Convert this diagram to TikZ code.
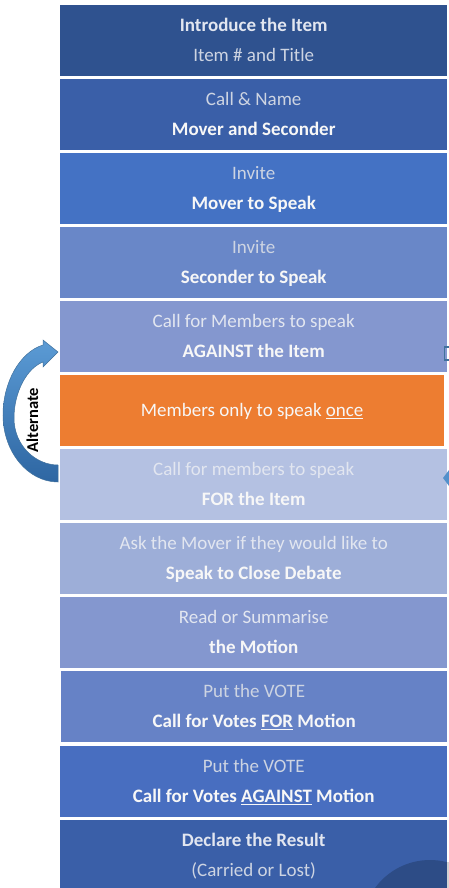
\documentclass[tikz,border=0pt]{standalone}
\usepackage{fontspec}
\setmainfont{Carlito}
\definecolor{ra}{RGB}{47,82,143}
\definecolor{rb}{RGB}{58,95,168}
\definecolor{rc}{RGB}{68,114,196}
\definecolor{rd}{RGB}{105,135,200}
\definecolor{re}{RGB}{132,151,207}
\definecolor{orng}{RGB}{237,125,49}
\definecolor{rg}{RGB}{180,193,226}
\definecolor{rh}{RGB}{157,174,216}
\definecolor{ri}{RGB}{132,151,207}
\definecolor{rj}{RGB}{102,130,198}
\definecolor{rk}{RGB}{72,110,192}
\definecolor{rl}{RGB}{58,95,168}
\definecolor{darkc}{RGB}{45,76,134}
\definecolor{lt}{RGB}{205,212,226}
\definecolor{vlt}{RGB}{226,230,240}
\definecolor{arrL}{RGB}{91,155,213}
\definecolor{arrD}{RGB}{46,102,162}
\definecolor{arrE}{RGB}{65,113,156}
\begin{document}
\begin{tikzpicture}[x=1pt,y=-1pt,
  rowbox/.style={rectangle, inner sep=0pt, minimum width=387pt, minimum height=71pt,
    anchor=north west, align=center, font=\fontsize{19}{30}\selectfont, text=white!97!black}]
\useasboundingbox (0,0) rectangle (449,888);
\node[rowbox, fill=ra] (n1) at (60,5) {\strut\textbf{\color{vlt}Introduce the Item}\\\strut{\color{lt}Item \# and Title}};
\node[rowbox, fill=rb] (n2) at (60,79) {\strut{\color{lt}Call \& Name}\\\strut\textbf{Mover and Seconder}};
\node[rowbox, fill=rc] (n3) at (60,153) {\strut{\color{lt}Invite}\\\strut\textbf{Mover to Speak}};
\node[rowbox, fill=rd] (n4) at (60,227) {\strut{\color{lt}Invite}\\\strut\textbf{Seconder to Speak}};
\node[rowbox, fill=re] (n5) at (60,301) {\strut{\color{vlt}Call for Members to speak}\\\strut\textbf{AGAINST the Item}};
\node[rowbox, fill=orng, minimum width=384pt] (n6) at (60,375) {\strut Members only to speak \underline{once}};
\node[rowbox, fill=rg] (n7) at (60,449) {\strut{\color{vlt}Call for members to speak}\\\strut\textbf{FOR the Item}};
\node[rowbox, fill=rh] (n8) at (60,523) {\strut{\color{vlt}Ask the Mover if they would like to}\\\strut\textbf{Speak to Close Debate}};
\node[rowbox, fill=ri] (n9) at (60,597) {\strut{\color{vlt}Read or Summarise}\\\strut\textbf{the Motion}};
\node[rowbox, fill=rj, minimum width=386pt] (n10) at (61,671) {\strut{\color{lt}Put the VOTE}\\\strut\textbf{Call for Votes \underline{FOR} Motion}};
\node[rowbox, fill=rk] (n11) at (60,746) {\strut{\color{lt}Put the VOTE}\\\strut\textbf{Call for Votes \underline{AGAINST} Motion}};
\begin{scope}
\clip (60,820) rectangle (447,888);
\fill[rl] (60,820) rectangle (447,891);
\fill[darkc] (430,928) circle (68pt);
\end{scope}
\node[rowbox, fill=none] (n12) at (60,820) {\strut\textbf{\color{vlt}Declare the Result}\\\strut{\color{lt}(Carried or Lost)}};
\fill[gray!35] (447,862) rectangle (449,888);
% curved alternate arrow
\path[shade, top color=arrL, bottom color=arrD, draw=arrE, line width=0.5pt]
  (43,345) .. controls (20,352) and (3,382) .. (3,415)
  .. controls (3,452) and (28,482) .. (58,482) -- (58,465)
  .. controls (36,465) and (14,446) .. (14,418)
  .. controls (14,392) and (27,368) .. (43,362)
  -- (43,367) -- (58,352) -- (43,340) -- cycle;
\node[rotate=90, font=\fontsize{16.5}{20}\selectfont\bfseries, text=black] (alt) at (32.5,420) {Alternate};
% right-edge fragments
\draw[arrE, line width=1.5pt] (449,347) -- (444.5,347) -- (444.5,360) -- (449,360);
\fill[arrL!80!arrD] (443,478) -- (449,470) -- (449,486) -- cycle;
\end{tikzpicture}
\end{document}
